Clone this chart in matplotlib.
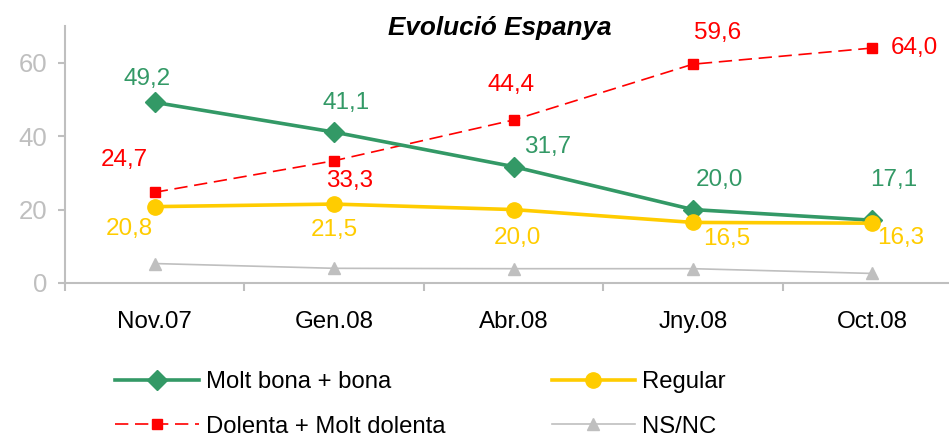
import matplotlib
matplotlib.use("Agg")
import matplotlib.pyplot as plt
from matplotlib.ticker import FixedLocator

plt.rcParams["font.family"] = ["Liberation Sans", "DejaVu Sans"]

# dades
periodes = ["Nov.07", "Gen.08", "Abr.08", "Jny.08", "Oct.08"]
bona = [49.2, 41.1, 31.7, 20.0, 17.1]
regular = [20.8, 21.5, 20.0, 16.5, 16.3]
dolenta = [24.7, 33.3, 44.4, 59.6, 64.0]
nsnc = [5.3, 4.0, 3.9, 3.9, 2.6]

# desplaçament de les etiquetes (pixels)
off_bona = [(-8, 23), (12, 29), (34, 20), (27, 30), (21, 40)]
off_dolenta = [(-30, 32), (16, -20), (-2, 35), (25, 31), (42, 0)]
off_regular = [(-25, -22), (0, -26), (4, -28), (34, -17), (28, -15)]

VERD = "#339966"
GROC = "#FFCC00"
VERMELL = "#FF0000"
GRIS = "#BFBFBF"

fig = plt.figure(figsize=(9.49, 4.36), dpi=100)
ax = fig.add_axes([65 / 949, 153 / 436, 897 / 949, 257 / 436])

x = list(range(len(periodes)))
ax.plot(x, nsnc, color=GRIS, lw=1.2, marker="^", ms=9, label="NS/NC", zorder=2)
ax.plot(x, dolenta, color=VERMELL, lw=1.2, dashes=(8, 4), marker="s", ms=7.5,
        label="Dolenta + Molt dolenta", zorder=3)
ax.plot(x, bona, color=VERD, lw=2.6, marker="D", ms=10, label="Molt bona + bona", zorder=4)
ax.plot(x, regular, color=GROC, lw=2.6, marker="o", ms=11, label="Regular", zorder=5)

def etiquetes(vals, offs, color):
    for i, (v, o) in enumerate(zip(vals, offs)):
        ax.annotate(f"{v:.1f}".replace(".", ","), (i, v), xytext=o,
                    textcoords="offset pixels", ha="center", va="center",
                    color=color, fontsize=17.5)

etiquetes(bona, off_bona, VERD)
etiquetes(dolenta, off_dolenta, VERMELL)
etiquetes(regular, off_regular, GROC)

ax.set_xlim(-0.5, 4.5)
ax.set_ylim(0, 70)
ax.set_yticks([0, 20, 40, 60])
ax.set_xticks(x)
ax.set_xticklabels(periodes)
ax.xaxis.set_minor_locator(FixedLocator([i - 0.5 for i in range(6)]))
ax.tick_params(axis="x", which="major", length=0, pad=20, labelsize=17.4, labelcolor="black")
ax.tick_params(axis="x", which="minor", length=6, width=1.5, color=GRIS)
ax.tick_params(axis="y", length=5, width=1.5, color=GRIS, labelcolor=GRIS, labelsize=18.5, pad=8)
for s in ["top", "right"]:
    ax.spines[s].set_visible(False)
for s in ["left", "bottom"]:
    ax.spines[s].set_color(GRIS)
    ax.spines[s].set_linewidth(1.5)
ax.patch.set_visible(False)

fig.text(500 / 949, 1 - 28 / 436, "Evolució Espanya", ha="center", va="center",
         fontsize=18.8, fontweight="bold", fontstyle="italic")

h, l = ax.get_legend_handles_labels()
ordre = [2, 1, 3, 0]
fig.legend([h[i] for i in ordre], [l[i] for i in ordre], ncol=2,
           loc="upper left", bbox_to_anchor=(115 / 949, 1 - 371 / 436),
           frameon=False, fontsize=17.2, handlelength=3.5, handletextpad=0.3,
           columnspacing=4.45, labelspacing=0.95, borderpad=0, borderaxespad=0)

fig.savefig("out.png", dpi=100)
